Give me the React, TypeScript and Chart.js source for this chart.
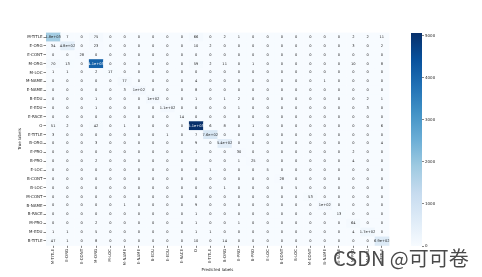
import React, { useEffect, useRef } from "react";
import { Chart, registerables } from "chart.js";
Chart.register(...registerables);

const labels = ["M-TITLE","E-ORG","E-CONT","M-ORG","M-LOC","M-NAME","E-NAME","B-EDU","E-EDU","E-RACE","O","E-TITLE","B-ORG","E-PRO","B-PRO","E-LOC","B-CONT","B-LOC","M-CONT","B-NAME","B-RACE","M-PRO","M-EDU","B-TITLE"];

const rowMTitle = [1800,7,0,75,0,0,0,0,0,0,66,0,2,1,0,0,0,0,0,0,0,2,2,11];
const rowEOrg = [34,480,0,23,0,0,0,0,0,0,10,2,0,0,0,0,0,0,0,0,0,3,0,2];
const rowECont = [0,0,28,0,0,0,0,0,0,0,0,0,0,0,0,0,0,0,0,0,0,0,0,0];
const rowMOrg = [70,13,0,4100,0,0,0,0,0,0,59,2,11,0,1,0,0,0,0,0,0,10,0,8];
const rowMLoc = [1,1,0,2,17,0,0,0,0,0,0,0,0,0,0,0,0,0,0,0,0,0,0,0];
const rowMName = [0,0,0,0,0,77,0,0,0,0,4,0,0,0,0,0,0,0,0,1,0,0,0,0];
const rowEName = [0,0,0,0,0,3,100,0,0,0,8,0,0,0,0,0,0,0,0,0,0,0,0,0];
const rowBEdu = [0,0,0,1,0,0,0,100,0,0,1,0,1,2,0,0,0,0,0,0,0,0,2,1];
const rowEEdu = [0,0,0,1,0,0,0,0,110,0,0,0,0,1,0,0,0,0,0,0,0,0,3,0];
const rowERace = [0,0,0,0,0,0,0,0,0,14,0,0,0,0,0,0,0,0,0,0,0,0,0,0];
const rowO = [51,2,0,42,0,1,0,0,0,0,5070,6,8,0,1,0,0,0,0,0,0,0,0,6];
const rowETitle = [3,0,0,0,0,0,0,0,1,0,7,760,0,0,0,0,0,0,0,0,0,0,0,0];
const rowBOrg = [0,0,0,3,0,0,0,0,0,0,9,0,540,0,0,0,0,0,0,0,0,0,0,4];
const rowEPro = [0,0,0,0,0,0,0,0,0,0,1,0,0,30,0,0,0,0,0,0,0,2,0,0];
const rowBPro = [0,0,0,2,0,0,0,0,0,0,0,0,0,1,25,0,0,0,0,0,0,4,0,0];
const rowELoc = [0,0,0,0,0,0,0,0,0,0,0,1,0,0,0,5,0,0,0,0,0,0,0,0];
const rowBCont = [0,0,0,0,0,0,0,0,0,0,0,0,0,0,0,0,28,0,0,0,0,0,0,0];
const rowBLoc = [0,0,0,0,0,0,0,0,0,0,0,0,1,0,0,0,0,5,0,0,0,0,0,0];
const rowMCont = [0,0,0,0,0,0,0,0,0,0,0,0,0,0,0,0,0,0,53,0,0,0,0,0];
const rowBName = [0,0,0,0,0,1,0,0,0,0,9,0,0,0,0,0,0,0,0,100,0,0,0,0];
const rowBRace = [0,0,0,0,0,0,0,0,0,0,1,0,0,0,0,0,0,0,0,0,13,0,0,0];
const rowMPro = [0,0,0,2,0,0,0,0,0,0,1,0,0,1,0,0,0,0,0,0,0,64,0,0];
const rowMEdu = [1,1,0,5,0,0,0,0,0,0,1,1,0,0,0,0,0,0,0,0,0,4,170,0];
const rowBTitle = [47,1,0,8,0,0,0,0,0,0,10,0,14,0,0,0,0,0,0,0,0,0,0,690];

const colorbarTicks = [0, 1000, 2000, 3000, 4000, 5000];

const matrix = [rowMTitle,rowEOrg,rowECont,rowMOrg,rowMLoc,rowMName,rowEName,rowBEdu,rowEEdu,rowERace,rowO,rowETitle,rowBOrg,rowEPro,rowBPro,rowELoc,rowBCont,rowBLoc,rowMCont,rowBName,rowBRace,rowMPro,rowMEdu,rowBTitle];

const BLUES = ["#f7fbff","#deebf7","#c6dbef","#9ecae1","#6baed6","#4292c6","#2171b5","#08519c","#08306b"];
const FONT = "'DejaVu Sans', sans-serif";

function hexRgb(h: string) {
  return [parseInt(h.slice(1, 3), 16), parseInt(h.slice(3, 5), 16), parseInt(h.slice(5, 7), 16)];
}
function blues(t: number) {
  t = Math.max(0, Math.min(1, t));
  const p = t * (BLUES.length - 1);
  const i = Math.min(BLUES.length - 2, Math.floor(p));
  const f = p - i;
  const a = hexRgb(BLUES[i]);
  const b = hexRgb(BLUES[i + 1]);
  return [0, 1, 2].map((k) => a[k] + (b[k] - a[k]) * f);
}
function lum(c: number[]) {
  const l = c.map((v) => {
    const s = v / 255;
    return s <= 0.03928 ? s / 12.92 : Math.pow((s + 0.055) / 1.055, 2.4);
  });
  return 0.2126 * l[0] + 0.7152 * l[1] + 0.0722 * l[2];
}
function fmt2g(v: number) {
  if (v === 0) return "0";
  if (Math.abs(v) < 100) return String(Math.round(v));
  let s = v.toExponential(1);
  let [m, e] = s.split("e");
  if (m.endsWith(".0")) m = m.slice(0, -2);
  const sign = e[0] === "-" ? "-" : "+";
  let d = e.replace(/[+-]/, "");
  if (d.length < 2) d = "0" + d;
  return m + "e" + sign + d;
}

const vmax = Math.max(...matrix.flat());
const vmin = 0;

export default function App() {
  const mainRef = useRef<HTMLCanvasElement>(null);
  const cbRef = useRef<HTMLCanvasElement>(null);

  useEffect(() => {
    const points: { x: string; y: string; v: number }[] = [];
    matrix.forEach((row, r) =>
      row.forEach((v, c) => points.push({ x: labels[c], y: labels[r], v }))
    );

    const heatPlugin = {
      id: "heat",
      beforeDatasetsDraw(chart: any) {
        const { ctx, scales } = chart;
        const xs = scales.x, ys = scales.y;
        const cw = xs.width / labels.length;
        const ch = ys.height / labels.length;
        ctx.save();
        matrix.forEach((row, r) => {
          row.forEach((v, c) => {
            const cx = xs.getPixelForValue(c);
            const cy = ys.getPixelForValue(r);
            const col = blues((v - vmin) / (vmax - vmin));
            ctx.fillStyle = `rgb(${col[0]},${col[1]},${col[2]})`;
            ctx.fillRect(cx - cw / 2, cy - ch / 2, cw + 0.4, ch + 0.4);
          });
        });
        ctx.font = `3.6px ${FONT}`;
        ctx.textAlign = "center";
        ctx.textBaseline = "middle";
        matrix.forEach((row, r) => {
          row.forEach((v, c) => {
            const cx = xs.getPixelForValue(c);
            const cy = ys.getPixelForValue(r);
            const col = blues((v - vmin) / (vmax - vmin));
            ctx.fillStyle = lum(col) > 0.408 ? "#262626" : "#ffffff";
            ctx.fillText(fmt2g(v), cx, cy);
          });
        });
        ctx.restore();
      },
    };

    const main = new Chart(mainRef.current!, {
      type: "scatter",
      data: {
        datasets: [
          {
            data: points as any,
            pointRadius: 0,
            pointHoverRadius: 0,
          },
        ],
      },
      options: {
        responsive: false,
        animation: false,
        devicePixelRatio: 1,
        events: [],
        layout: { padding: { left: 0, top: 32.6, right: 93, bottom: 0 } },
        plugins: { legend: { display: false }, tooltip: { enabled: false } },
        scales: {
          x: {
            type: "category",
            labels: labels,
            offset: true,
            grid: { display: true, drawOnChartArea: false, drawTicks: true, tickLength: 2.5, offset: false, color: "#333333", lineWidth: 0.6 },
            border: { display: false },
            ticks: { autoSkip: false, minRotation: 90, maxRotation: 90, padding: 1, color: "#262626", font: { family: FONT, size: 4 } },
            title: { display: true, text: "Predicted labels", color: "#262626", font: { family: FONT, size: 4 }, padding: { top: 0, bottom: 5 } },
            afterFit: (s: any) => { s.height = 277 - 245.4; },
          },
          y: {
            type: "category",
            labels: labels,
            offset: true,
            grid: { display: true, drawOnChartArea: false, drawTicks: true, tickLength: 2.5, offset: false, color: "#333333", lineWidth: 0.6 },
            border: { display: false },
            ticks: { autoSkip: false, padding: 1, color: "#262626", font: { family: FONT, size: 4 } },
            title: { display: true, text: "True labels", color: "#262626", font: { family: FONT, size: 4 }, padding: { top: 18, bottom: 0 } },
            afterFit: (s: any) => { s.width = 46; },
          },
        },
      } as any,
      plugins: [heatPlugin],
    });

    const cbPlugin = {
      id: "cbar",
      beforeDatasetsDraw(chart: any) {
        const { ctx, chartArea } = chart;
        const g = ctx.createLinearGradient(0, chartArea.bottom, 0, chartArea.top);
        BLUES.forEach((c, i) => g.addColorStop(i / (BLUES.length - 1), c));
        ctx.save();
        ctx.fillStyle = g;
        ctx.fillRect(chartArea.left, chartArea.top, chartArea.right - chartArea.left, chartArea.bottom - chartArea.top);
        ctx.restore();
      },
    };

    const cb = new Chart(cbRef.current!, {
      type: "bar",
      data: { labels: [""], datasets: [{ data: [0], backgroundColor: "rgba(0,0,0,0)" }] },
      options: {
        responsive: false,
        animation: false,
        devicePixelRatio: 1,
        events: [],
        layout: { padding: { left: 411, top: 33, right: 0, bottom: 31 } },
        plugins: { legend: { display: false }, tooltip: { enabled: false } },
        scales: {
          x: { display: false },
          y: {
            position: "right",
            min: vmin,
            max: vmax,
            afterBuildTicks: (s: any) => { s.ticks = colorbarTicks.map((v) => ({ value: v })); },
            grid: { display: true, drawOnChartArea: false, drawTicks: true, tickLength: 2, color: "#333333", lineWidth: 0.6 },
            border: { display: false },
            ticks: { padding: 1, color: "#262626", font: { family: FONT, size: 4 }, callback: (v: any) => String(v) },
            afterFit: (s: any) => { s.width = 482 - 422; },
          },
        },
      } as any,
      plugins: [cbPlugin],
    });

    return () => {
      main.destroy();
      cb.destroy();
    };
  }, []);

  return (
    <div style={{ position: "fixed", left: 0, top: 0, width: 482, height: 277, background: "#ffffff", overflow: "hidden" }}>
      <canvas ref={mainRef} width={482} height={277} style={{ position: "absolute", left: 0, top: 0 }} />
      <canvas ref={cbRef} width={482} height={277} style={{ position: "absolute", left: 0, top: 0 }} />
      <div
        style={{
          position: "absolute",
          left: 333,
          top: 244,
          fontSize: 20,
          lineHeight: "28px",
          fontFamily: "'Noto Sans CJK SC', 'Noto Sans', sans-serif",
          color: "#4a4a4a",
          whiteSpace: "nowrap",
        }}
      >
        CSDN @可可卷
      </div>
    </div>
  );
}
